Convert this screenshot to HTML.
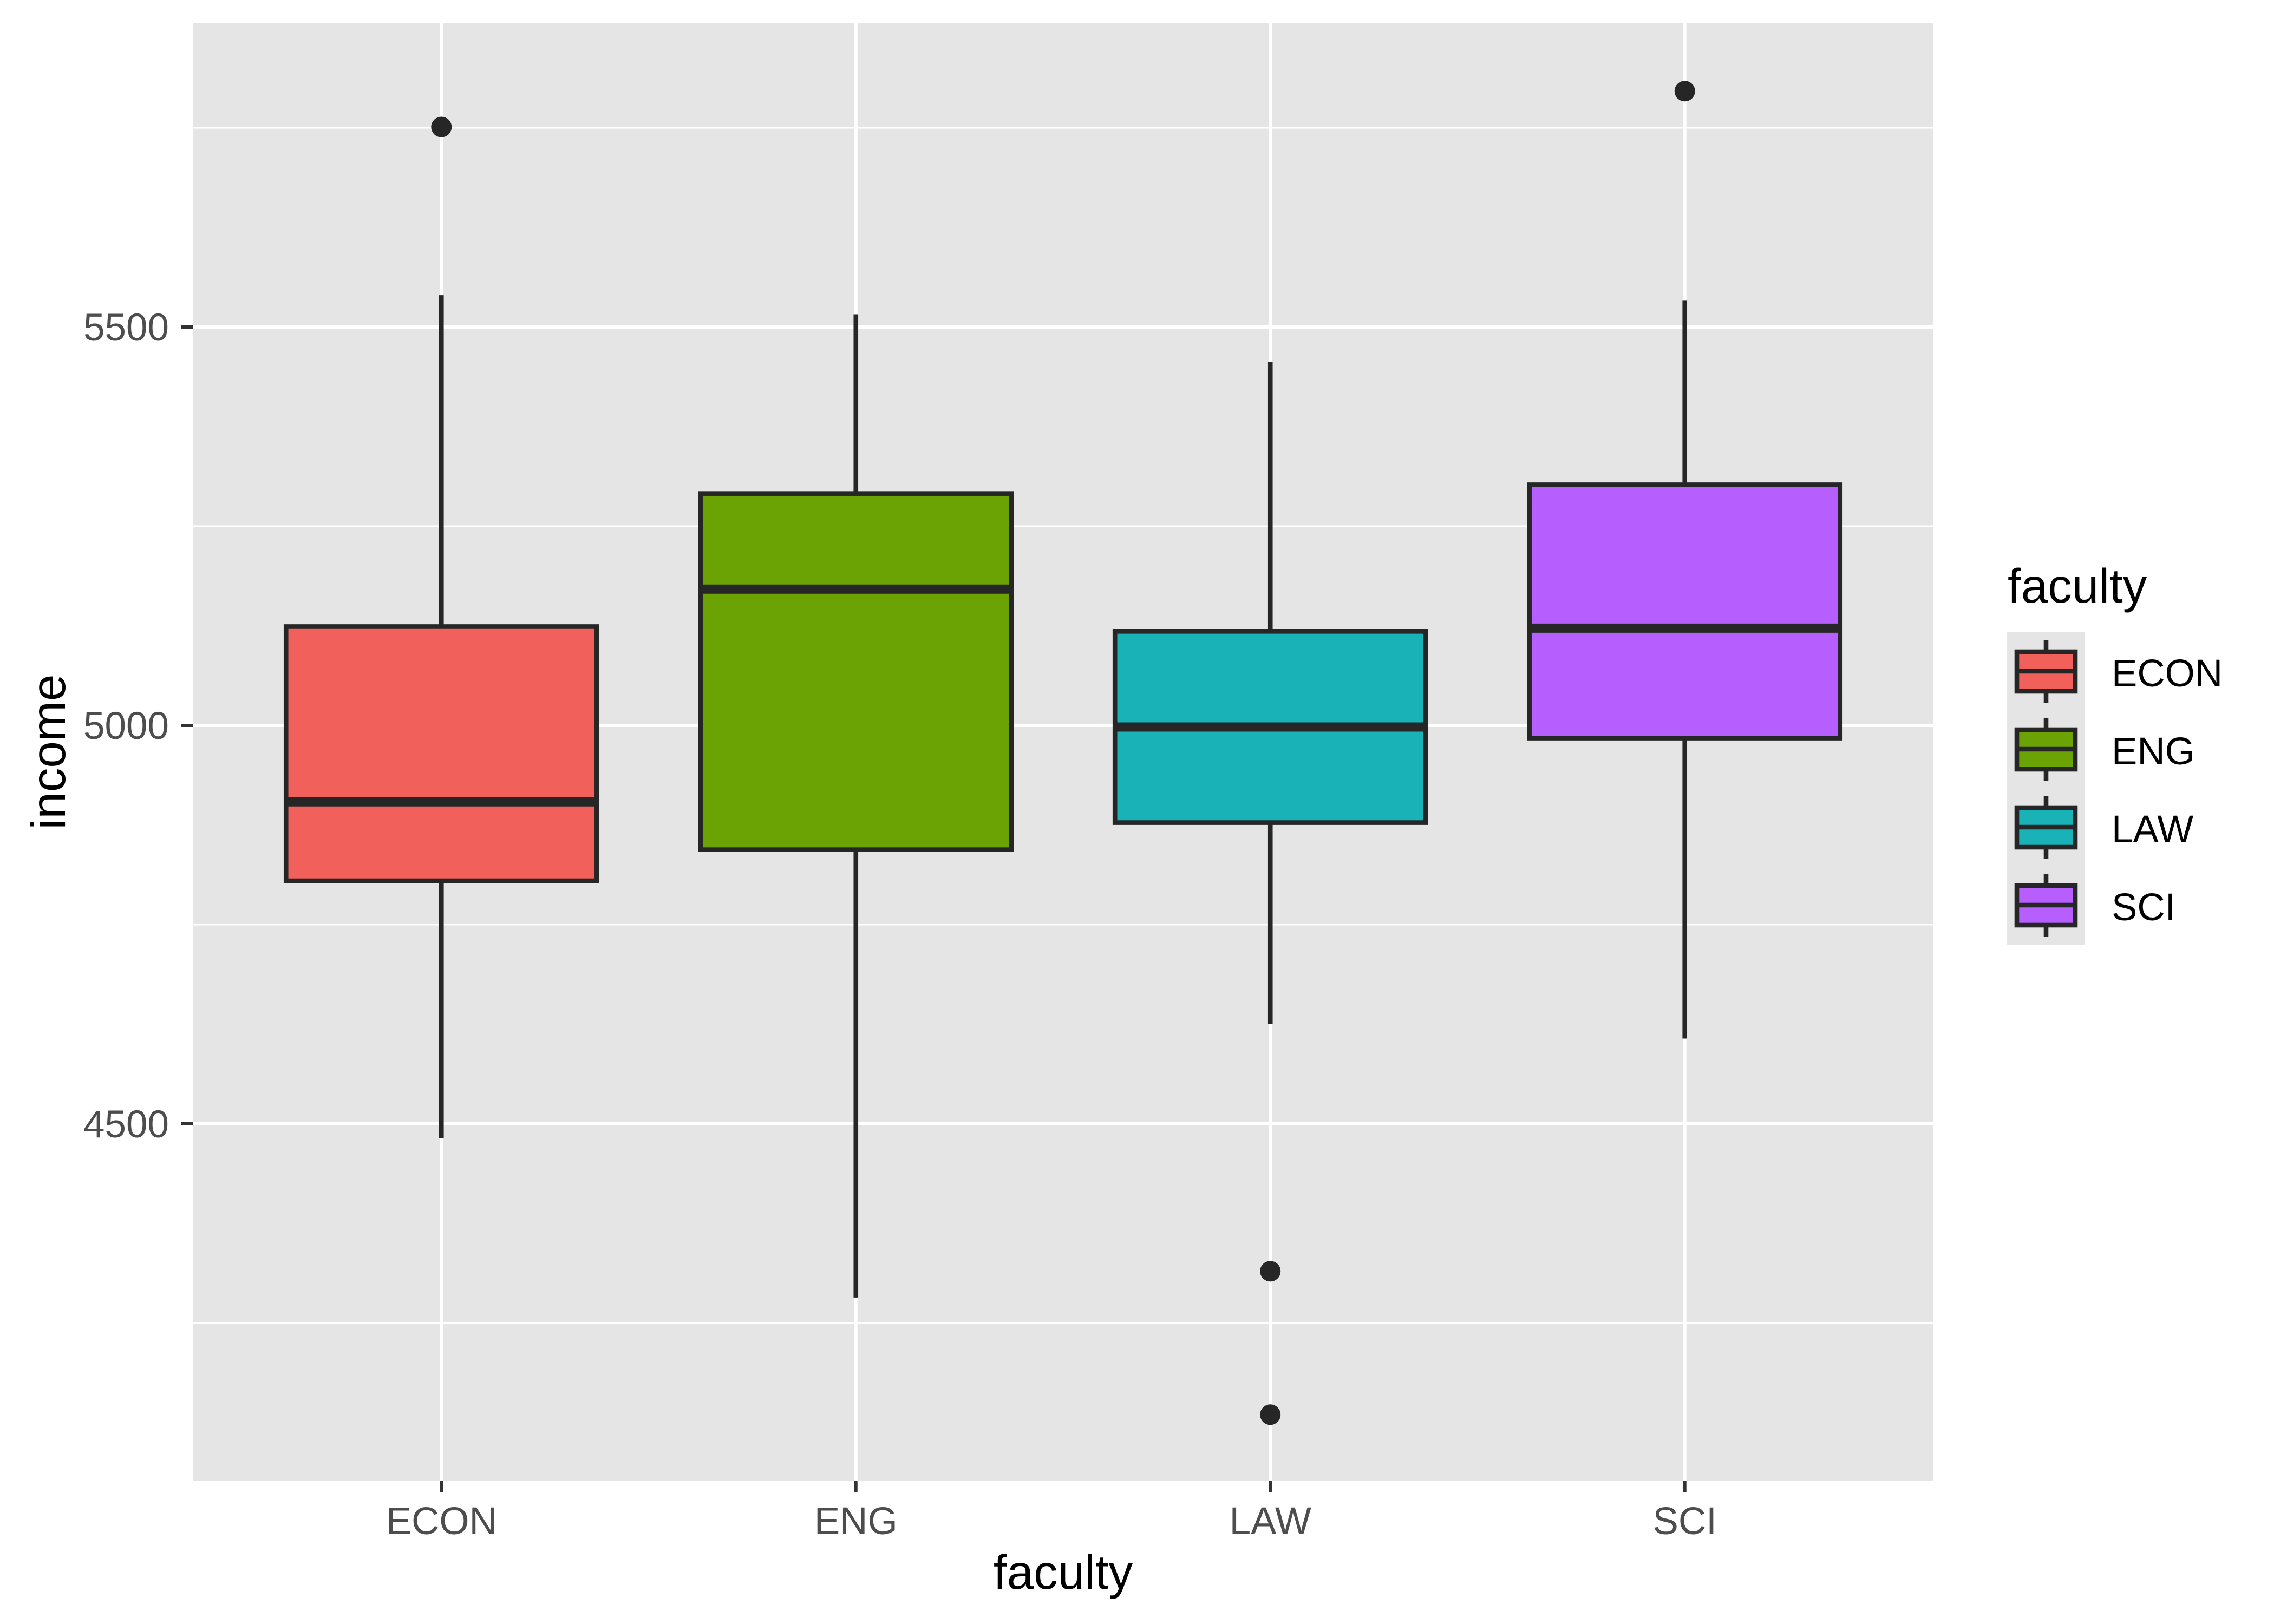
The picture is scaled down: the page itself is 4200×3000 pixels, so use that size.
<!DOCTYPE html>
<html><head><meta charset="utf-8"><style>
html,body{margin:0;padding:0;background:#fff;}
svg{display:block;font-family:"Liberation Sans",Arial,sans-serif;}
</style></head><body>
<svg id="chart" width="4200" height="3000" viewBox="0 0 4200 3000" xmlns="http://www.w3.org/2000/svg">
<rect x="0" y="0" width="4200" height="3000" fill="#ffffff"/>
<g id="panel"></g>
<g id="axes"></g>
<g id="legend"></g>
</svg>
<script>
const categories = ["ECON","ENG","LAW","SCI"];
const colors = ["#F8766D","#7CAE00","#00BFC4","#C77CFF"];
const fills = ["#F2605C","#6BA304","#19B2B7","#B75FFE"];
const whiskerLow = [4482,4282,4625,4607];
const q1 = [4805,4844,4878,4984];
const median = [4904,5171,4998,5122];
const q3 = [5124,5291,5118,5302];
const whiskerHigh = [5540,5516,5456,5533];
const outlierCat = ["ECON","LAW","LAW","SCI"];
const outlierVal = [5751,4315,4135,5796];
const yTicks = [4500,5000,5500];
const yMinor = [4250,4750,5250,5750];

const NS="http://www.w3.org/2000/svg";
const PL=356, PR=3571, PT=43, PB=2735;
const Y0=1340, PXU=736/500;
function y(v){return Y0-(v-5000)*PXU;}
const step=(PR-PL)/4.2;
function x(c){return PL+step*(0.6+categories.indexOf(c));}
const bw=step*0.75;
function mk(tag,attrs,parent){const e=document.createElementNS(NS,tag);for(const k in attrs)e.setAttribute(k,attrs[k]);parent.appendChild(e);return e;}
const panel=document.getElementById('panel'), axes=document.getElementById('axes'), legend=document.getElementById('legend');

let bg=mk('rect',{x:PL,y:PT,width:PR-PL,height:PB-PT,fill:'#e5e5e5'},panel);


yMinor.forEach(v=>{const l=mk('line',{x1:PL,x2:PR,y1:y(v),y2:y(v),stroke:'#fff','stroke-width':3},panel);

});
yTicks.forEach(v=>{const l=mk('line',{x1:PL,x2:PR,y1:y(v),y2:y(v),stroke:'#fff','stroke-width':6},panel);

});
categories.forEach(c=>{const l=mk('line',{x1:x(c),x2:x(c),y1:PT,y2:PB,stroke:'#fff','stroke-width':6},panel);

});

categories.forEach((c,i)=>{
  const g=mk('g',{},panel);
  
  
  const cx=x(c);
  mk('line',{x1:cx,x2:cx,y1:y(whiskerHigh[i]),y2:y(q3[i]),stroke:'#262626','stroke-width':8.6},g);
  mk('line',{x1:cx,x2:cx,y1:y(q1[i]),y2:y(whiskerLow[i]),stroke:'#262626','stroke-width':8.6},g);
  mk('rect',{x:cx-bw/2,y:y(q3[i]),width:bw,height:y(q1[i])-y(q3[i]),fill:fills[i],stroke:'#262626','stroke-width':8.6},g);
  mk('line',{x1:cx-bw/2,x2:cx+bw/2,y1:y(median[i]),y2:y(median[i]),stroke:'#262626','stroke-width':17},g);
});
outlierVal.forEach((v,i)=>{const p=mk('circle',{cx:x(outlierCat[i]),cy:y(v),r:19,fill:'#262626'},panel);

});

yTicks.forEach(v=>{
  mk('line',{x1:335,x2:PL,y1:y(v),y2:y(v),stroke:'#333','stroke-width':6},axes);
  const t=mk('text',{x:312,y:y(v)+25,'text-anchor':'end','font-size':71,fill:'#4d4d4d'},axes);
  t.textContent=v;
  
  
});
categories.forEach(c=>{
  mk('line',{x1:x(c),x2:x(c),y1:PB,y2:PB+22,stroke:'#333','stroke-width':6},axes);
  const t=mk('text',{x:x(c),y:2834,'text-anchor':'middle','font-size':71,fill:'#4d4d4d'},axes);
  t.textContent=c;
  
  
});
let xt=mk('text',{x:(PL+PR)/2,y:2935,'text-anchor':'middle','font-size':89,fill:'#000'},axes);
xt.textContent='faculty';


let yt=mk('text',{x:0,y:0,'text-anchor':'middle','font-size':89,fill:'#000',transform:'translate(120,'+((PT+PB)/2)+') rotate(-90)'},axes);
yt.textContent='income';



let lt=mk('text',{x:3708,y:1113,'font-size':89,fill:'#000'},legend);
lt.textContent='faculty';


mk('rect',{x:3707,y:1168,width:144,height:577,fill:'#e5e5e5'},legend);
categories.forEach((c,i)=>{
  const g=mk('g',{},legend);
  
  
  const oy=1168+i*144, cx=3779;
  mk('line',{x1:cx,x2:cx,y1:oy+15,y2:oy+130,stroke:'#262626','stroke-width':8.6},g);
  mk('rect',{x:3725,y:oy+36,width:108,height:73,fill:fills[i],stroke:'#262626','stroke-width':8.6},g);
  mk('line',{x1:3725,x2:3833,y1:oy+72,y2:oy+72,stroke:'#262626','stroke-width':8.6},g);
  const t=mk('text',{x:3900,y:oy+100,'font-size':71,fill:'#000'},g);
  t.textContent=c;
});
</script>
</body></html>
